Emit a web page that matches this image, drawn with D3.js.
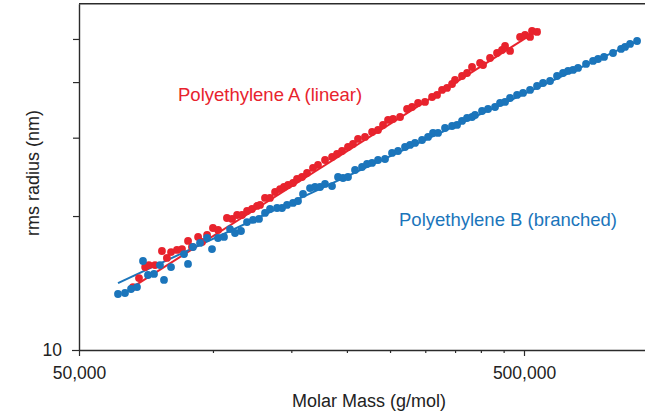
<!DOCTYPE html>
<html>
<head>
<meta charset="utf-8">
<script src="https://cdn.jsdelivr.net/npm/d3@7"></script>
<style>
  html, body { margin: 0; padding: 0; background: #fff; }
  svg { display: block; }
  text { font-family: "Liberation Sans", Arial, Helvetica, sans-serif; }
</style>
</head>
<body>
<svg id="chart" width="645" height="414"></svg>
<script>
// Polyethylene A (linear): molar mass (g/mol) and rms radius (nm)
const massA = [66100, 68200, 70400, 71800, 74100, 76800, 78800, 80500, 83000, 85200,
  87900, 89700, 92600, 94500, 97000, 100000, 102700, 107500, 110400, 113300,
  116200, 119300, 122400, 125600, 127600, 130900, 134300, 137900, 141500, 144400,
  147500, 151300, 154500, 158500, 162700, 167800, 172200, 178600, 185200, 190000,
  195000, 201100, 206400, 211800, 219600, 227800, 234900, 241100, 247400, 253900,
  263300, 273000, 280100, 289000, 299600, 310700, 318800, 327200, 335700, 344600,
  349900, 362800, 372400, 382100, 398300, 404500, 419400, 434900, 446300, 453300,
  465200, 489900, 502700, 515900, 521200, 534900];
const radiusA = [13.85, 14.51, 15.36, 15.52, 15.52, 16.69, 16.10, 16.60, 16.78, 16.86,
  17.58, 17.04, 17.95, 17.49, 18.13, 18.80, 18.61, 19.80, 19.70, 20.11,
  20.11, 20.53, 20.74, 21.07, 21.18, 21.96, 21.96, 22.65, 23.00, 23.24,
  23.49, 23.73, 24.23, 24.48, 24.99, 25.65, 26.05, 26.73, 27.15, 27.57,
  28.00, 28.59, 29.04, 29.80, 30.11, 30.90, 31.22, 32.04, 32.88, 33.05,
  33.39, 34.80, 35.16, 35.90, 36.09, 37.03, 37.42, 38.40, 38.80, 39.61,
  40.44, 41.28, 41.93, 43.25, 44.16, 43.70, 45.31, 46.50, 47.23, 48.22,
  46.99, 50.52, 51.04, 50.52, 52.11, 51.84];

// Polyethylene B (branched)
const massB = [61180, 63440, 65440, 67500, 69630, 71450, 73710, 76030, 77620, 80490,
  86090, 87890, 90190, 93520, 96970, 99510, 102650, 105880, 109220, 112090,
  115620, 119270, 123030, 126910, 130910, 134340, 139300, 142950, 146700, 151320,
  155290, 159350, 165230, 169560, 174010, 178570, 185160, 191000, 196010, 201140,
  208570, 216260, 221930, 227750, 234930, 243600, 252580, 260550, 270160, 277240,
  284510, 295000, 304310, 312280, 320460, 332290, 344550, 353580, 362840, 372350,
  382120, 388090, 402410, 415100, 430410, 441690, 453270, 465150, 482310, 497520,
  515870, 534900, 551770, 572120, 593230, 611940, 627970, 644430, 661320, 689280,
  714700, 733430, 756560, 792640, 826140, 843410, 865530, 897450];
const radiusB = [13.36, 13.43, 13.71, 13.85, 15.85, 14.74, 14.82, 15.52, 14.37, 15.36,
  16.43, 15.61, 17.04, 17.40, 17.85, 16.86, 17.85, 17.95, 18.70, 18.32,
  18.51, 19.39, 19.60, 19.70, 20.32, 20.74, 20.85, 20.85, 21.18, 21.40,
  21.62, 22.42, 23.12, 23.24, 23.24, 23.61, 23.36, 24.48, 24.35, 24.48,
  25.38, 25.78, 26.18, 26.32, 26.73, 26.87, 27.72, 28.00, 28.59, 28.89,
  29.19, 29.64, 30.11, 30.74, 30.74, 31.54, 31.87, 32.04, 32.71, 33.22,
  33.39, 33.74, 34.44, 34.80, 35.16, 35.90, 36.09, 36.84, 37.42, 37.81,
  38.40, 39.20, 39.81, 40.23, 41.28, 41.93, 42.37, 42.59, 43.03, 43.93,
  44.62, 45.08, 45.55, 46.50, 47.48, 47.97, 48.72, 49.48];

// Power-law fit lines, as [mass, radius] end points
const fitA = [[65440, 13.78], [543300, 52.65]];
const fitB = [[61180, 14.14], [911500, 49.74]];

// Axis ticks
const xMajorTicks = [50000, 500000];
const xMinorTicks = [100000, 150000, 200000, 250000, 300000, 350000, 400000, 450000];
const yMajorTicks = [10];
const yMinorTicks = [20, 30, 40, 50];

const seriesNames = ["Polyethylene A (linear)", "Polyethylene B (branched)"];
const colorA = "#e8232d";
const colorB = "#1b75bb";
const axisColor = "#2b2b2b";

const svg = d3.select("#chart");

const plotLeft = 79, plotBottom = 350;
const decade = 445;

const x = d3.scaleLog().domain([50000, 1000000])
  .range([plotLeft, plotLeft + decade * Math.log10(20)]);
const y = d3.scaleLog().domain([10, 60])
  .range([plotBottom, plotBottom - decade * Math.log10(6)]);

const fmt = d3.format(",");

// x axis: major and minor ticks
const gx = svg.append("g").attr("transform", `translate(0,${plotBottom})`);
gx.call(d3.axisBottom(x).tickValues(xMajorTicks).tickSize(6).tickSizeOuter(0).tickPadding(10).tickFormat(fmt));
const gxm = svg.append("g").attr("transform", `translate(0,${plotBottom})`);
gxm.call(d3.axisBottom(x).tickValues(xMinorTicks).tickSize(3).tickSizeOuter(0).tickFormat(""));
gxm.select(".domain").remove();

// y axis
const gy = svg.append("g").attr("transform", `translate(${plotLeft},0)`);
gy.call(d3.axisLeft(y).tickValues(yMajorTicks).tickSize(7).tickSizeOuter(0).tickPadding(10).tickFormat(d3.format("d")));
const gym = svg.append("g").attr("transform", `translate(${plotLeft},0)`);
gym.call(d3.axisLeft(y).tickValues(yMinorTicks).tickSize(6).tickSizeOuter(0).tickFormat(""));
gym.select(".domain").remove();

[gx, gxm, gy, gym].forEach(g => {
  g.selectAll(".domain").attr("stroke", axisColor).attr("stroke-width", 1.4);
  g.selectAll(".tick line").attr("stroke", axisColor).attr("stroke-width", 1.2);
  g.selectAll(".tick text").attr("fill", "#222").attr("font-size", 17.5)
    .attr("font-family", '"Liberation Sans", Arial, Helvetica, sans-serif');
});
gy.selectAll(".tick text").attr("dy", "0.34em");
gx.selectAll(".tick text").attr("dy", "0.72em");

// top frame line
svg.append("line")
  .attr("x1", x(50000)).attr("x2", x(1000000))
  .attr("y1", y(60)).attr("y2", y(60))
  .attr("stroke", axisColor).attr("stroke-width", 1.4);

// fit lines
const line = d3.line().x(d => x(d[0])).y(d => y(d[1]));
svg.append("path").datum(fitA).attr("d", line)
  .attr("fill", "none").attr("stroke", colorA).attr("stroke-width", 2);
svg.append("path").datum(fitB).attr("d", line)
  .attr("fill", "none").attr("stroke", colorB).attr("stroke-width", 2);

// data points
const ptsA = massA.map((m, i) => [m, radiusA[i]]);
const ptsB = massB.map((m, i) => [m, radiusB[i]]);

svg.append("g").selectAll("circle").data(ptsA).join("circle")
  .attr("cx", d => x(d[0])).attr("cy", d => y(d[1])).attr("r", 3.9)
  .attr("fill", colorA);
svg.append("g").selectAll("circle").data(ptsB).join("circle")
  .attr("cx", d => x(d[0])).attr("cy", d => y(d[1])).attr("r", 3.9)
  .attr("fill", colorB);

// series labels
svg.append("text").attr("x", 178).attr("y", 101)
  .attr("font-size", 18.5).attr("fill", colorA).text(seriesNames[0]);
svg.append("text").attr("x", 399).attr("y", 226)
  .attr("font-size", 18.5).attr("fill", colorB).text(seriesNames[1]);

// axis titles
svg.append("text").attr("x", 369).attr("y", 407).attr("text-anchor", "middle")
  .attr("font-size", 18).attr("fill", "#222").text("Molar Mass (g/mol)");
svg.append("text").attr("transform", "translate(39,173) rotate(-90)")
  .attr("text-anchor", "middle").attr("font-size", 18).attr("fill", "#222")
  .text("rms radius (nm)");
</script>
</body>
</html>
